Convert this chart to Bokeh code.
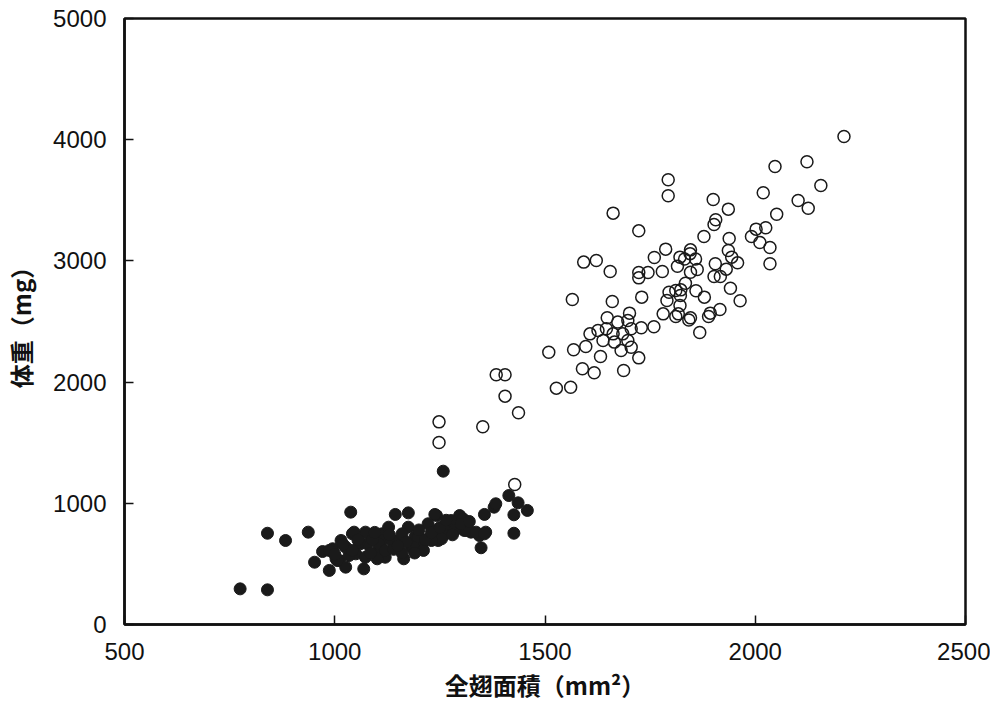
from bokeh.plotting import figure
from bokeh.models import Range1d, FixedTicker
from bokeh.embed import file_html
from bokeh.resources import INLINE

# Open circles (larger group)
open_x = [2211, 2047, 2123, 2156, 1793, 1793, 2019, 2102, 2126, 2051, 1900, 1936, 1662, 1906, 1902,
          1723, 2002, 2025, 1991, 1878, 1938, 2011, 2035, 2035, 1936, 1944, 1958, 1787, 1760, 1846,
          1821, 1832, 1858, 1845, 1905, 1815, 1862, 1846, 1779, 1745, 1723, 1723, 1931, 1902, 1917,
          1592, 1622, 1655, 1941, 1964, 1834, 1823, 1811, 1795, 1859, 1879, 1822, 1790, 1821, 1730,
          1660, 1565, 1916, 1893, 1889, 1781, 1811, 1817, 1842, 1846, 1868, 1759, 1729, 1701, 1697,
          1705, 1648, 1673, 1646, 1626, 1607, 1662, 1685, 1638, 1665, 1697, 1705, 1681, 1632, 1723,
          1597, 1568, 1509, 1589, 1617, 1687, 1527, 1561, 1405, 1384, 1405, 1437, 1248, 1352, 1248,
          1428]
open_y = [4026, 3779, 3818, 3622, 3669, 3537, 3562, 3498, 3435, 3385, 3507, 3427, 3394, 3339, 3300,
          3248, 3262, 3273, 3201, 3201, 3185, 3152, 3111, 2976, 3086, 3031, 2984, 3097, 3028, 3091,
          3031, 3016, 3016, 3060, 2976, 2956, 2929, 2907, 2912, 2904, 2904, 2860, 2932, 2871, 2871,
          2990, 3003, 2912, 2775, 2671, 2816, 2761, 2756, 2742, 2754, 2701, 2714, 2673, 2632, 2701,
          2665, 2681, 2599, 2569, 2541, 2563, 2541, 2563, 2513, 2530, 2409, 2456, 2448, 2569, 2508,
          2440, 2531, 2495, 2440, 2426, 2398, 2398, 2398, 2343, 2330, 2343, 2288, 2261, 2211, 2200,
          2294, 2267, 2247, 2110, 2077, 2096, 1950, 1958, 2060, 2060, 1884, 1747, 1672, 1631, 1502,
          1155]

# Filled circles (smaller group)
filled_x = [775, 840, 840, 883, 937, 952, 971, 987, 1011, 1015, 995, 1042, 1073, 1061, 1077,
            1050, 1073, 1069, 1034, 1105, 1112, 1026, 1003, 1038, 987, 1006, 1046, 1058, 1026, 1042,
            1144, 1175, 1128, 1112, 1120, 1164, 1152, 1175, 1191, 1183, 1207, 1222, 1242, 1242, 1246,
            1262, 1269, 1297, 1293, 1308, 1324, 1344, 1359, 1356, 1348, 1101, 1105, 1136, 1160, 1199,
            1187, 1211, 1120, 1238, 1254, 1230, 1277, 1305, 1285, 1313, 1336, 1356, 1379, 1383, 1414,
            1436, 1458, 1426, 1426, 1258, 1090, 1095, 1130, 1140, 1170, 1215, 1230, 1200, 1250, 1265,
            1280, 1300, 1320, 1160, 1085, 1055, 1020, 1000, 1150, 1190]
filled_y = [294, 286, 753, 693, 762, 514, 602, 446, 528, 693, 625, 748, 762, 666, 666,
            583, 555, 459, 569, 625, 748, 473, 542, 927, 611, 528, 762, 679, 638, 611,
            908, 921, 803, 693, 555, 542, 693, 803, 721, 638, 638, 831, 899, 776, 693,
            748, 831, 899, 803, 776, 762, 734, 762, 908, 633, 542, 666, 693, 748, 721,
            638, 611, 611, 908, 707, 693, 858, 872, 776, 776, 762, 748, 968, 996, 1064,
            1004, 941, 905, 753, 1265, 700, 760, 740, 620, 680, 700, 760, 780, 800, 860,
            740, 830, 850, 590, 590, 700, 660, 580, 650, 590]

x_ticks = [500, 1000, 1500, 2000, 2500]
y_ticks = [0, 1000, 2000, 3000, 4000, 5000]
x_label = "全翅面積（mm²）"
y_label = "体重（mg）"

W, H = 990, 704
p = figure(width=W, height=H, output_backend="svg", toolbar_location=None,
           x_range=Range1d(500, 2500), y_range=Range1d(0, 5000),
           min_border_left=115, min_border_right=25, min_border_top=18, min_border_bottom=80)

p.scatter(open_x, open_y, size=12, marker="circle", fill_color=None,
          line_color="#1a1a1a", line_width=1.5)
p.scatter(filled_x, filled_y, size=12, marker="circle", fill_color="#1a1a1a",
          line_color="#1a1a1a", line_width=1)

p.xgrid.visible = False
p.ygrid.visible = False
p.outline_line_color = "#111111"
p.outline_line_width = 2.5
p.outline_line_alpha = 1.0
p.background_fill_color = "white"
p.border_fill_color = "white"

for ax in (p.xaxis[0], p.yaxis[0]):
    ax.axis_line_color = "#111111"
    ax.axis_line_width = 2.5
    ax.major_tick_line_color = "#111111"
    ax.major_tick_line_width = 1.5
    ax.major_tick_in = 9
    ax.major_tick_out = 0
    ax.minor_tick_line_color = None
    ax.major_label_text_font = "Liberation Sans"
    ax.major_label_text_font_size = "24px"
    ax.major_label_text_color = "#111111"
    ax.axis_label_text_font = "Noto Sans CJK JP"
    ax.axis_label_text_font_size = "24px"
    ax.axis_label_text_font_style = "bold"
    ax.axis_label_text_color = "#111111"

p.xaxis[0].ticker = FixedTicker(ticks=x_ticks)
p.yaxis[0].ticker = FixedTicker(ticks=y_ticks)
p.xaxis[0].axis_label = x_label
p.yaxis[0].axis_label = y_label
p.xaxis[0].major_label_standoff = 18
p.yaxis[0].major_label_standoff = 18
p.xaxis[0].axis_label_standoff = 4
p.yaxis[0].axis_label_standoff = 12

open("out.html", "w").write(file_html(p, INLINE))
